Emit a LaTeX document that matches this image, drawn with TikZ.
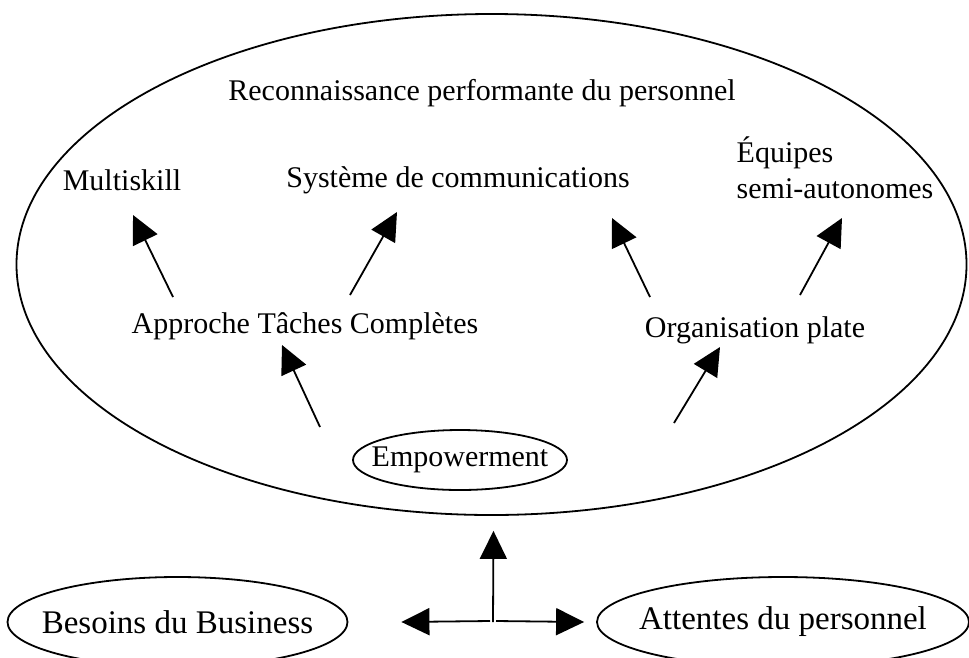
\documentclass[tikz,border=0pt]{standalone}
\usepackage{fontspec}
\setmainfont{Liberation Serif}
\usepackage{tikz}
\usetikzlibrary{positioning}
\usetikzlibrary{calc,shapes.geometric}
\usetikzlibrary{arrows.meta}
\tikzset{>={Triangle[length=28pt,width=27pt]}}
\tikzset{
  lbl/.style={inner sep=0pt, font=\fontsize{30}{36}\selectfont},
  bulle/.style={ellipse, draw, line width=1.8pt, inner sep=0pt,
                font=\fontsize{30}{36}\selectfont},
  fleche/.style={->, line width=1.8pt}
}
\newcommand{\centre}[1]{\makebox[0pt]{#1}}

\begin{document}
\begin{tikzpicture}[x=1pt, y=-1pt]

\clip (0,0) rectangle (969,657);
\useasboundingbox (0,0) rectangle (969,657);

% ---------- Grande ellipse ----------
\node[ellipse, draw, line width=1.8pt, minimum width=950pt, minimum height=501pt]
  (cadre) at (491.5,264.5) {};

\node[lbl] (titre) at (482,93) {Reconnaissance performante du personnel};

% Niveau haut
\node[lbl] (multi) at (122,180) {Multiskill};
\node[lbl] (comm) at (458,180) {Système de communications};
\node[lbl, align=left] (equipes) at (835,168) {Équipes\\semi-autonomes};

% Niveau milieu
\node[lbl] (approche) at (305,326) {Approche Tâches Complètes};
\node[lbl] (orga) at (755,330) {Organisation plate};

% Empowerment
\node[bulle, minimum width=214pt, minimum height=60pt] (empow) at (460,460) {\centre{Empowerment}};

% ---------- Fleches internes ----------
\draw[fleche] ($(approche)+(-132,-29)$) -- ($(multi)+(11,35)$);
\draw[fleche] ($(approche)+(45,-31)$) -- ($(comm)+(-61,32)$);
\draw[fleche] ($(orga)+(-105,-33)$) -- ($(comm)+(154,38)$);
\draw[fleche] ($(orga)+(45,-35)$) -- ($(equipes)+(7,50)$);
\draw[fleche] ($(empow)+(-140,-33)$) -- ($(approche)+(-23,19)$);
\draw[fleche] ($(empow)+(214,-37)$) -- ($(orga)+(-35,17)$);

% ---------- Bas ----------
\node[bulle, font=\fontsize{33}{38}\selectfont, minimum width=340pt, minimum height=90pt]
  (besoins) at (177.5,622) {\centre{Besoins du Business}};
\node[bulle, font=\fontsize{33}{38}\selectfont, minimum width=372pt, minimum height=90pt]
  (attentes) at (783,622) {\centre{Attentes du personnel}};

\coordinate (joint) at (493,621);

\draw[fleche] ([yshift=-1pt]joint) -- ($(cadre.south)+(2,15)$);
\draw[fleche] ($(joint)+(-3,0)$) -- ($(besoins.east)+(53,0)$);
\draw[fleche] ($(joint)+(3,0)$) -- ($(attentes.west)+(-12,0)$);

\end{tikzpicture}
\end{document}
